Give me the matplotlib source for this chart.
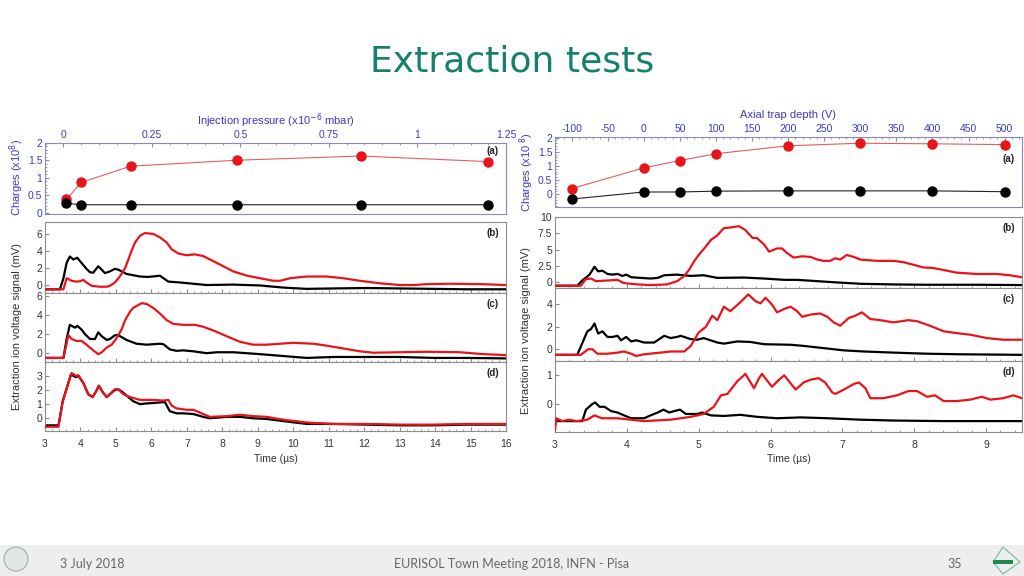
import matplotlib.pyplot as plt
from matplotlib.ticker import MultipleLocator
from matplotlib.patches import Rectangle, Ellipse, Polygon

# ---- panel (a): charges vs injection pressure / trap depth ----
pressure = [0.008, 0.051, 0.19, 0.49, 0.84, 1.20]
charges_p_red = [0.38, 0.87, 1.33, 1.50, 1.62, 1.46]
charges_p_black = [0.27, 0.23, 0.23, 0.23, 0.23, 0.23]

depth = [-100, 0, 50, 100, 200, 300, 400, 500]
charges_d_red = [0.20, 0.93, 1.19, 1.43, 1.71, 1.80, 1.78, 1.75]
charges_d_black = [-0.17, 0.08, 0.08, 0.11, 0.12, 0.12, 0.12, 0.09]

# ---- left traces (time in us, signal in mV) ----
lb_black_t = [3.0, 3.42, 3.52, 3.61, 3.70, 3.80, 3.91, 4.03, 4.17, 4.27, 4.36, 4.50, 4.60, 4.69, 4.83, 4.97,
              5.07, 5.30, 5.68, 5.90, 6.15, 6.24, 6.34, 6.48, 6.81, 7.18, 7.56, 8.31, 9.06, 9.72, 10.38, 11.13,
              12.07, 13.01, 13.95, 14.89, 16.0]
lb_black_v = [-0.5, -0.5, 0.8, 2.6, 3.35, 3.0, 3.2, 2.6, 1.9, 1.5, 1.45, 2.2, 1.8, 1.4, 1.6, 1.9,
              1.8, 1.3, 1.0, 0.95, 1.05, 1.1, 0.8, 0.4, 0.3, 0.15, 0.0, 0.05, -0.05, -0.3, -0.45, -0.4,
              -0.35, -0.4, -0.45, -0.5, -0.5]
lb_red_t = [3.0, 3.52, 3.61, 3.75, 3.89, 3.99, 4.08, 4.17, 4.32, 4.55, 4.74, 4.83, 4.97, 5.11, 5.26, 5.35,
            5.44, 5.54, 5.68, 5.82, 6.05, 6.24, 6.43, 6.57, 6.76, 6.99, 7.23, 7.46, 7.75, 8.03, 8.31, 8.69,
            9.06, 9.44, 9.63, 9.91, 10.38, 10.94, 11.41, 11.88, 12.45, 13.01, 13.39, 13.76, 14.42, 15.36, 16.0]
lb_red_v = [-0.5, -0.5, 0.8, 0.5, 0.4, 0.45, 0.6, 0.3, -0.1, -0.2, -0.2, -0.1, 0.3, 1.0, 2.0, 3.0,
            4.0, 5.0, 5.8, 6.1, 6.0, 5.6, 5.0, 4.2, 3.7, 3.5, 3.6, 3.4, 2.8, 2.2, 1.6, 1.1,
            0.8, 0.5, 0.5, 0.8, 1.0, 1.0, 0.8, 0.5, 0.2, 0.0, 0.0, 0.1, 0.15, 0.1, 0.0]

lc_black_t = [3.0, 3.52, 3.61, 3.70, 3.85, 3.91, 4.03, 4.13, 4.27, 4.41, 4.50, 4.60, 4.74, 4.83, 4.97, 5.07,
              5.30, 5.58, 5.87, 6.24, 6.34, 6.52, 6.71, 6.90, 7.18, 7.56, 7.84, 8.31, 9.06, 9.72, 10.38, 11.13,
              12.07, 13.01, 13.95, 14.89, 16.0]
lc_black_v = [-0.5, -0.5, 1.5, 3.0, 2.7, 2.9, 2.5, 2.0, 1.5, 1.5, 2.2, 1.8, 1.4, 1.5, 1.9, 1.9,
              1.4, 1.0, 0.9, 1.0, 0.95, 0.4, 0.25, 0.3, 0.2, 0.0, 0.1, 0.1, -0.1, -0.3, -0.5, -0.4,
              -0.4, -0.4, -0.5, -0.5, -0.55]
lc_red_t = [3.0, 3.52, 3.66, 3.75, 3.89, 4.03, 4.17, 4.36, 4.50, 4.60, 4.74, 4.88, 5.02, 5.16, 5.26, 5.40,
            5.49, 5.73, 5.87, 6.05, 6.24, 6.43, 6.62, 6.90, 7.23, 7.46, 7.75, 8.12, 8.50, 8.87, 9.25, 9.63,
            10.0, 10.57, 10.94, 11.41, 11.88, 12.26, 13.01, 13.76, 14.70, 15.36, 16.0]
lc_red_v = [-0.5, -0.5, 1.9, 1.5, 1.3, 1.3, 0.9, 0.3, -0.1, 0.1, 0.6, 0.9, 1.6, 2.5, 3.5, 4.4,
            4.8, 5.3, 5.2, 4.8, 4.2, 3.5, 3.1, 3.0, 3.0, 2.8, 2.4, 1.8, 1.2, 0.9, 0.9, 1.0,
            1.1, 1.0, 0.8, 0.5, 0.2, 0.05, 0.1, 0.15, 0.1, -0.1, -0.2]

ld_black_t = [3.0, 3.38, 3.50, 3.73, 3.87, 3.94, 4.08, 4.22, 4.34, 4.44, 4.52, 4.64, 4.74, 4.83, 4.97, 5.07,
              5.21, 5.35, 5.49, 5.68, 5.87, 6.15, 6.38, 6.52, 6.71, 6.90, 7.18, 7.46, 7.65, 8.12, 8.50, 8.87,
              9.25, 9.72, 10.38, 11.13, 12.07, 13.01, 13.95, 14.89, 16.0]
ld_black_v = [-0.5, -0.5, 1.2, 3.1, 2.9, 3.0, 2.5, 1.7, 1.5, 1.9, 2.3, 1.8, 1.5, 1.7, 2.0, 2.05,
              1.8, 1.5, 1.2, 1.0, 1.05, 1.1, 1.15, 0.5, 0.35, 0.35, 0.3, 0.1, 0.0, 0.1, 0.1, 0.0,
              -0.05, -0.2, -0.4, -0.4, -0.45, -0.5, -0.5, -0.45, -0.45]
ld_red_t = [3.0, 3.38, 3.50, 3.75, 3.87, 3.94, 4.08, 4.22, 4.34, 4.44, 4.52, 4.64, 4.74, 4.83, 4.97, 5.07,
            5.21, 5.40, 5.68, 6.05, 6.34, 6.48, 6.57, 6.71, 6.99, 7.18, 7.37, 7.65, 8.12, 8.50, 8.87, 9.25,
            9.72, 10.38, 11.13, 12.07, 13.01, 13.95, 14.89, 16.0]
ld_red_v = [-0.6, -0.6, 1.2, 3.2, 3.0, 3.05, 2.5, 1.7, 1.5, 1.9, 2.3, 1.8, 1.5, 1.7, 2.05, 2.05,
            1.7, 1.5, 1.3, 1.3, 1.25, 1.3, 0.9, 0.7, 0.6, 0.6, 0.4, 0.1, 0.15, 0.25, 0.15, 0.1,
            -0.1, -0.3, -0.4, -0.4, -0.45, -0.45, -0.4, -0.4]

# ---- right traces ----
rb_black_t = [3.0, 3.31, 3.38, 3.48, 3.55, 3.60, 3.66, 3.73, 3.80, 3.87, 3.94, 3.99, 4.06, 4.19, 4.33, 4.43,
              4.52, 4.70, 4.89, 5.07, 5.26, 5.63, 5.91, 6.19, 6.37, 6.65, 6.93, 7.25, 7.71, 8.18, 8.87, 9.5]
rb_black_v = [-0.5, -0.5, 0.3, 1.2, 2.4, 1.7, 1.8, 1.3, 1.2, 1.3, 1.0, 1.2, 0.8, 0.7, 0.6, 0.7,
              1.1, 1.2, 1.0, 1.1, 0.7, 0.75, 0.6, 0.4, 0.4, 0.2, 0.0, -0.2, -0.3, -0.35, -0.35, -0.4]
rb_red_t = [3.0, 3.36, 3.43, 3.50, 3.57, 3.73, 3.87, 3.96, 4.15, 4.33, 4.56, 4.70, 4.80, 4.87, 4.94, 5.00,
            5.10, 5.17, 5.26, 5.35, 5.44, 5.56, 5.65, 5.75, 5.81, 5.91, 5.98, 6.09, 6.16, 6.23, 6.32, 6.44,
            6.56, 6.65, 6.74, 6.83, 6.90, 6.97, 7.06, 7.16, 7.25, 7.48, 7.71, 7.85, 7.99, 8.13, 8.27, 8.41,
            8.59, 8.87, 9.15, 9.33, 9.5]
rb_red_v = [-0.5, -0.5, 0.5, 0.6, 0.2, 0.3, 0.4, -0.1, -0.3, -0.4, -0.3, 0.2, 1.0, 2.0, 3.3, 4.2,
            5.5, 6.5, 7.2, 8.3, 8.4, 8.6, 8.0, 6.8, 6.8, 5.8, 4.7, 5.2, 5.2, 4.5, 3.8, 4.0,
            3.9, 3.5, 3.3, 3.3, 3.7, 3.5, 4.2, 3.9, 3.5, 3.3, 3.3, 3.1, 2.7, 2.3, 2.2, 1.9,
            1.5, 1.3, 1.3, 1.1, 0.8]

rc_black_t = [3.0, 3.31, 3.45, 3.50, 3.55, 3.60, 3.66, 3.73, 3.80, 3.87, 3.92, 3.99, 4.06, 4.13, 4.24, 4.38,
              4.52, 4.61, 4.70, 4.75, 4.89, 4.98, 5.07, 5.26, 5.35, 5.54, 5.72, 5.91, 6.28, 6.46, 6.74, 7.02,
              7.30, 7.71, 8.18, 8.64, 9.5]
rc_black_v = [-0.5, -0.5, 1.6, 1.8, 2.3, 1.4, 1.6, 1.1, 1.1, 1.2, 0.8, 1.1, 0.7, 0.8, 0.6, 0.6,
              1.2, 1.0, 1.1, 1.2, 0.9, 0.85, 1.0, 0.6, 0.5, 0.7, 0.65, 0.45, 0.4, 0.3, 0.1, -0.1,
              -0.2, -0.3, -0.4, -0.45, -0.5]
rc_red_t = [3.0, 3.36, 3.46, 3.52, 3.59, 3.73, 3.87, 3.96, 4.06, 4.13, 4.24, 4.47, 4.61, 4.80, 4.89, 5.00,
            5.10, 5.19, 5.26, 5.35, 5.44, 5.58, 5.69, 5.79, 5.86, 5.93, 6.02, 6.09, 6.19, 6.28, 6.37, 6.44,
            6.56, 6.69, 6.79, 6.88, 6.97, 7.09, 7.18, 7.27, 7.39, 7.53, 7.71, 7.92, 8.04, 8.22, 8.41, 8.64,
            8.78, 9.01, 9.24, 9.5]
rc_red_v = [-0.5, -0.5, 0.0, 0.0, -0.4, -0.4, -0.3, -0.2, -0.4, -0.6, -0.45, -0.3, -0.2, -0.2, 0.3, 1.5,
            2.0, 3.0, 2.6, 3.8, 3.4, 4.2, 4.9, 4.3, 4.1, 4.6, 4.0, 3.3, 3.6, 3.8, 3.4, 2.9,
            3.1, 3.2, 2.9, 2.4, 2.1, 2.8, 3.0, 3.3, 2.7, 2.6, 2.4, 2.6, 2.5, 2.1, 1.6, 1.4,
            1.3, 1.0, 0.85, 0.85]

rd_black_t = [3.0, 3.38, 3.43, 3.52, 3.56, 3.62, 3.69, 3.78, 3.87, 3.96, 4.06, 4.24, 4.33, 4.43, 4.51, 4.59,
              4.66, 4.74, 4.82, 4.98, 5.05, 5.17, 5.35, 5.58, 5.81, 6.09, 6.42, 6.79, 7.25, 7.71, 8.41, 9.5]
rd_black_v = [-0.6, -0.6, -0.2, 0.0, 0.05, -0.1, -0.1, -0.25, -0.3, -0.4, -0.5, -0.5, -0.4, -0.3, -0.2, -0.3,
              -0.25, -0.2, -0.35, -0.35, -0.3, -0.4, -0.42, -0.38, -0.45, -0.5, -0.47, -0.5, -0.55, -0.58, -0.6, -0.6]
rd_red_t = [3.0, 3.02, 3.1, 3.2, 3.3, 3.45, 3.55, 3.65, 3.87, 4.24, 4.61, 4.89, 5.07, 5.21, 5.31, 5.40,
            5.54, 5.65, 5.77, 5.84, 5.88, 6.02, 6.12, 6.19, 6.35, 6.46, 6.56, 6.67, 6.76, 6.86, 6.90, 7.02,
            7.16, 7.23, 7.32, 7.39, 7.57, 7.76, 7.92, 8.04, 8.18, 8.29, 8.41, 8.59, 8.78, 8.94, 9.06, 9.24,
            9.38, 9.5]
rd_red_v = [-0.9, -0.5, -0.6, -0.55, -0.6, -0.55, -0.4, -0.5, -0.5, -0.6, -0.55, -0.45, -0.35, -0.1, 0.3, 0.35,
            0.8, 1.05, 0.55, 0.9, 1.05, 0.6, 0.85, 1.0, 0.5, 0.75, 0.85, 0.9, 0.75, 0.4, 0.35, 0.5,
            0.7, 0.75, 0.55, 0.2, 0.2, 0.3, 0.45, 0.45, 0.25, 0.3, 0.1, 0.1, 0.15, 0.25, 0.15, 0.2,
            0.3, 0.2]

plt.rcParams['font.family'] = ['Liberation Sans', 'DejaVu Sans']
plt.rcParams['axes.unicode_minus'] = False

W, H = 1024, 576
BLUE = '#3b3bc4'
GREY = '#333333'
RED = '#e8141a'

fig = plt.figure(figsize=(W / 100, H / 100), dpi=100)


def box(x0, x1, y0, y1):
    # pixel box (top-left origin) -> figure fraction rect
    return [x0 / W, 1 - y1 / H, (x1 - x0) / W, (y1 - y0) / H]


def style_axes(ax, color, spine):
    for s in ax.spines.values():
        s.set_color(spine)
        s.set_linewidth(0.8)
    ax.tick_params(which='both', direction='in', colors=spine, labelcolor=color, labelsize=7.5)
    ax.tick_params(which='major', length=3)
    ax.tick_params(which='minor', length=1.5)


def charge_panel(rect, x, red, black, xlim, xmaj, xmin, xlabel, ylim, label_y):
    ax = fig.add_axes(rect)
    ax.plot(x, red, color='#e06060', lw=0.8, marker='o', ms=6.5, mfc=RED, mec=RED, zorder=3)
    ax.plot(x, black, color='#222222', lw=0.8, marker='o', ms=6.5, mfc='black', mec='black', zorder=3)
    ax.set_xlim(*xlim)
    ax.set_ylim(*ylim)
    style_axes(ax, BLUE, '#8a8ab8')
    ax.xaxis.tick_top()
    ax.xaxis.set_label_position('top')
    ax.xaxis.set_major_locator(MultipleLocator(xmaj))
    ax.xaxis.set_minor_locator(MultipleLocator(xmin))
    ax.yaxis.set_minor_locator(MultipleLocator(0.1))
    ax.tick_params(axis='x', pad=2)
    ax.tick_params(axis='y', pad=2)
    ax.set_xlabel(xlabel, color=BLUE, fontsize=8, labelpad=4)
    ax.set_yticks([0, 0.5, 1, 1.5, 2])
    ax.set_yticklabels(['0', '0.5', '1', '1.5', '2'])
    ax.text(0.985, label_y, '(a)', transform=ax.transAxes, ha='right', va='center',
            fontsize=7, fontweight='bold', color='#222222', zorder=5)
    return ax


def trace_panel(rect, xlim, ylim, yticks, yticklabels, black, red, label, bottom=False, xmin=0.2):
    ax = fig.add_axes(rect)
    ax.plot(black[0], black[1], color='black', lw=1.6, zorder=2)
    ax.plot(red[0], red[1], color=RED, lw=1.6, zorder=3)
    ax.set_xlim(*xlim)
    ax.set_ylim(*ylim)
    style_axes(ax, GREY, '#8c8c8c')
    ax.set_yticks(yticks)
    ax.set_yticklabels(yticklabels)
    ax.xaxis.set_major_locator(MultipleLocator(1))
    ax.xaxis.set_minor_locator(MultipleLocator(xmin))
    ax.tick_params(axis='y', pad=2)
    if not bottom:
        ax.tick_params(axis='x', labelbottom=False)
    else:
        ax.tick_params(axis='x', pad=6)
        ax.set_xlabel('Time (µs)', color=GREY, fontsize=7.5, labelpad=3)
    ax.text(0.985, 0.84, label, transform=ax.transAxes, ha='right', va='center',
            fontsize=7, fontweight='bold', color='#222222')
    return ax


# ---------------- left figure ----------------
ax = charge_panel(box(45, 506, 142.7, 213.5), pressure, charges_p_red, charges_p_black,
                  (-0.052, 1.25), 0.25, 0.05, r'Injection pressure (x10$^{-6}$ mbar)', (-0.02, 2.0), 0.88)
ax.set_xticks([0, 0.25, 0.5, 0.75, 1, 1.25])
ax.set_xticklabels(['0', '0.25', '0.5', '0.75', '1', '1.25'])

trace_panel(box(45, 506, 222, 292.7), (3, 16), (-0.9, 7.4), [0, 2, 4, 6], ['0', '2', '4', '6'],
            (lb_black_t, lb_black_v), (lb_red_t, lb_red_v), '(b)')
trace_panel(box(45, 506, 292.7, 361.7), (3, 16), (-0.9, 6.4), [0, 2, 4, 6], ['0', '2', '4', '6'],
            (lc_black_t, lc_black_v), (lc_red_t, lc_red_v), '(c)')
trace_panel(box(45, 506, 361.7, 431), (3, 16), (-0.9, 4.0), [0, 1, 2, 3], ['0', '1', '2', '3'],
            (ld_black_t, ld_black_v), (ld_red_t, ld_red_v), '(d)', bottom=True)

fig.text(17 / W, 1 - 177 / H, r'Charges (x10$^8$)', rotation=90, color=BLUE, fontsize=8,
         ha='center', va='center')
fig.text(17 / W, 1 - 326 / H, 'Extraction ion voltage signal (mV)', rotation=90, color=GREY,
         fontsize=8, ha='center', va='center')

# ---------------- right figure ----------------
charge_panel(box(555, 1022, 136.7, 207.3), depth, charges_d_red, charges_d_black,
             (-123, 524), 50, 10, 'Axial trap depth (V)', (-0.46, 2.03), 0.69)

trace_panel(box(555, 1022, 216.7, 287.7), (3, 9.5), (-0.8, 10.05), [0, 2.5, 5, 7.5, 10],
            ['0', '2.5', '5', '7.5', '10'], (rb_black_t, rb_black_v), (rb_red_t, rb_red_v), '(b)')
trace_panel(box(555, 1022, 287.7, 361), (3, 9.5), (-1.05, 5.5), [0, 2, 4], ['0', '2', '4'],
            (rc_black_t, rc_black_v), (rc_red_t, rc_red_v), '(c)')
trace_panel(box(555, 1022, 361, 431.7), (3, 9.5), (-0.97, 1.5), [0, 1], ['0', '1'],
            (rd_black_t, rd_black_v), (rd_red_t, rd_red_v), '(d)', bottom=True)

fig.text(527 / W, 1 - 172 / H, r'Charges (x10$^{\ 8}$)', rotation=90, color=BLUE, fontsize=8,
         ha='center', va='center')
fig.text(526 / W, 1 - 330 / H, 'Extraction ion voltage signal (mV)', rotation=90, color=GREY,
         fontsize=8, ha='center', va='center')

# ---------------- slide decorations ----------------
fig.text(512 / W, 1 - 62 / H, 'Extraction tests', color='#15806e', fontsize=26,
         family='DejaVu Sans', ha='center', va='center')

fig.patches.append(Rectangle((0, 0), 1, 31 / H, transform=fig.transFigure,
                             facecolor='#eeeeee', edgecolor='none', zorder=0))
fig.patches.append(Ellipse((16 / W, 1 - 559 / H), 24 / W, 24 / H, transform=fig.transFigure,
                           facecolor='#dfe6e4', edgecolor='#9ab0aa', lw=0.8))
fig.patches.append(Polygon([(1003 / W, 1 - 547 / H), (1020 / W, 1 - 562 / H), (1003 / W, 1 - 574 / H),
                            (993 / W, 1 - 562 / H)], closed=True, transform=fig.transFigure,
                           facecolor='none', edgecolor='#6fbf8f', lw=0.8))
fig.patches.append(Rectangle((993 / W, 1 - 564 / H), 20 / W, 4 / H, transform=fig.transFigure,
                             facecolor='#1f8a4c', edgecolor='none'))
fig.text(60 / W, 1 - 564 / H, '3 July 2018', color='#666666', fontsize=9, family='Lato',
         ha='left', va='center')
fig.text(512 / W, 1 - 564 / H, 'EURISOL Town Meeting 2018, INFN - Pisa', color='#666666',
         fontsize=9, family='Lato', ha='center', va='center')
fig.text(955 / W, 1 - 564 / H, '35', color='#666666', fontsize=9, family='Lato',
         ha='center', va='center')

fig.savefig('out.png', dpi=100)
